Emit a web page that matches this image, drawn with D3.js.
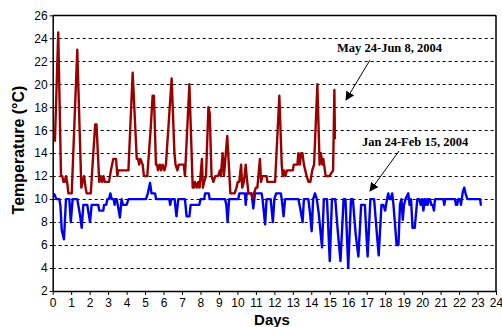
<!DOCTYPE html>
<html><head><meta charset="utf-8">
<script src="https://cdn.jsdelivr.net/npm/d3@7"></script>
<style>html,body{margin:0;padding:0;background:#fff;}svg{display:block;}</style>
</head><body>
<svg id="c" width="502" height="327"></svg>
<script>
const xTicks = d3.range(0, 25, 1);
const yTicks = d3.range(2, 27, 2);

const mayDays = [
  0.12,0.3,0.45,0.52,0.58,0.65,0.72,0.78,0.85,1.03,
  1.33,1.55,1.62,1.7,1.78,1.84,2.06,2.3,2.37,2.52,
  2.6,2.68,2.75,2.82,3.05,3.15,3.28,3.43,3.5,3.55,
  4.1,4.33,4.55,4.62,4.68,4.75,4.87,4.94,5.12,5.3,
  5.41,5.48,5.59,5.65,5.7,5.8,5.87,5.95,6.05,6.13,
  6.44,6.59,6.65,6.75,6.82,7.1,7.16,7.4,7.58,7.65,
  7.7,7.8,7.88,7.95,8.08,8.13,8.2,8.3,8.43,8.5,
  8.6,8.7,8.8,8.95,9.05,9.1,9.2,9.27,9.45,9.62,
  9.85,9.95,10.02,10.1,10.2,10.26,10.35,10.45,10.5,10.6,
  10.75,10.82,10.9,11.0,11.08,11.22,11.28,11.35,11.58,11.62,
  12.04,12.27,12.4,12.45,12.52,12.6,12.68,13.0,13.05,13.25,
  13.3,13.38,13.45,13.52,13.6,13.75,13.85,13.95,14.05,14.15,
  14.33,14.45,14.52,14.6,14.65,14.78,14.98,15.18,15.25,15.28];
const mayTemp = [
  15,24.5,12,12,11.5,11.5,12,11.5,10.5,10.5,
  23,11,11.5,12,11,10.5,10.5,16.5,16.5,11.5,
  12,11.5,12,11.5,11.5,12.5,13.5,13.5,12,12.5,
  12.5,21,13.5,13.5,13,13.5,13,12,12,16,
  19,19,13,13,12.5,13,12.5,13,12.5,13,
  20.5,14,13,12.5,13,13,12,20,11,11,
  11.5,11,11.5,11,13.5,11,11.5,12,18,17.5,
  12,11.5,12,12,12.5,12,14,12,15.5,10.5,
  10.5,11,11.5,11.5,13,11,11.5,13,12,10.5,
  10.5,10,10.5,11,11,13.5,11.5,12,12,11.5,
  11.5,19,13,12,12.5,12,12.5,12.5,13,13,
  14,13,14,14,13,12,11.5,11.5,12.5,13,
  20,13,14,13,13.5,12,12,12.5,19.5,15.2];

const janDays = [
  0.07,0.2,0.36,0.42,0.49,0.61,0.72,0.9,0.98,1.08,
  1.33,1.48,1.57,1.66,1.87,2.02,2.11,2.47,2.52,2.74,
  2.78,2.9,2.96,3.05,3.12,3.19,3.3,3.35,3.4,3.46,
  3.52,3.64,3.73,3.8,4.0,4.1,5.05,5.15,5.27,5.35,
  5.54,5.6,6.31,6.36,6.42,6.6,6.7,6.8,7.16,7.25,
  7.4,7.47,7.94,8.0,8.2,8.25,8.45,8.5,9.33,9.4,
  9.47,9.55,10.05,10.1,10.41,10.45,10.5,10.77,10.86,10.95,
  11.31,11.36,11.5,11.58,11.8,11.92,12.0,12.1,12.35,12.4,
  12.5,12.58,13.3,13.4,13.53,13.6,13.84,13.93,14.02,14.1,
  14.2,14.3,14.4,14.58,14.68,14.85,15.0,15.12,15.3,15.42,
  15.58,15.75,15.85,16.0,16.15,16.25,16.4,16.55,16.7,16.78,
  16.9,17.05,17.2,17.4,17.55,17.65,17.8,17.9,18.0,18.1,
  18.17,18.22,18.3,18.38,18.45,18.62,18.72,18.8,18.88,18.95,
  19.02,19.1,19.25,19.32,19.4,19.48,19.6,19.74,19.85,19.92,
  20.0,20.07,20.13,20.2,20.25,20.3,20.35,20.42,20.5,20.57,
  20.64,20.7,21.15,21.2,21.25,21.78,21.83,21.9,21.95,22.05,
  22.1,22.15,22.2,22.28,22.35,22.45,23.14,23.18,23.22];
const janTemp = [
  10.5,10,10,9.4,7.3,6.5,10,10,8,10,
  10,8.6,7.5,9.5,9.5,8,9.5,9.5,9,9,
  9.5,9.5,10,10,10.5,10,10,9.5,10,10,
  9.5,8.4,10,9.5,9.5,10,10,10.5,11.4,10.5,
  10.5,10,10,9.5,10,10,8.5,10,10,8.5,
  8.5,9.5,9.5,10,10,10.5,10.5,10,10,9.5,
  8,10,10,10.5,10.5,9.5,10.5,10.5,9.2,10.5,
  10.5,10,7.8,10,10,8,10,10.5,10.5,10,
  8.5,10,10,9.2,8,10,10,8.8,7.2,10,
  10.5,10,8.8,5.8,10,10,4.6,10,10,7.5,
  4.6,10,10,4.0,10,10,7.0,5.0,9.5,9.5,
  9.5,5.0,10,10,7.0,5.1,9.5,9.5,9.0,10,
  10.5,10,10,10.5,9.5,6,6,9.5,10,8.2,
  9.5,10,10.5,9.5,10,7.5,7.5,10,10,9.5,
  10,9,10,9.5,10,9.5,10,10,9.5,9.5,
  9,10,10,9.5,10,10,9.5,9.5,10,10,
  9.5,10,10.6,11,10.5,10,10,9.5,9.5];

const svg = d3.select("#c");
const x = d3.scaleLinear().domain([0, 24]).range([52.7, 496]);
const y = d3.scaleLinear().domain([2, 26]).range([291, 15.3]);

// gridlines
svg.append("g").selectAll("line").data(yTicks.filter(v => v > 2 && v < 26)).join("line")
  .attr("x1", x(0)).attr("x2", x(24))
  .attr("y1", d => Math.round(y(d)) + 0.5).attr("y2", d => Math.round(y(d)) + 0.5)
  .attr("stroke", "#000").attr("stroke-width", 1).attr("stroke-dasharray", "3,3");

// frame top/right
svg.append("line").attr("x1", x(0)).attr("x2", x(24)).attr("y1", Math.round(y(26))+0.5).attr("y2", Math.round(y(26))+0.5).attr("stroke","#000").attr("stroke-width",1.5);
svg.append("line").attr("x1", x(24)).attr("x2", x(24)).attr("y1", y(26)).attr("y2", y(2)).attr("stroke","#000").attr("stroke-width",1.5);

const line = d3.line().x(d => x(d[0])).y(d => y(d[1]));
svg.append("path").datum(janDays.map((d, i) => [d, janTemp[i]]))
  .attr("d", line).attr("fill", "none").attr("stroke", "#0000ee").attr("stroke-width", 2.4).attr("stroke-linejoin", "round");
svg.append("path").datum(mayDays.map((d, i) => [d, mayTemp[i]]))
  .attr("d", line).attr("fill", "none").attr("stroke", "#990000").attr("stroke-width", 2.4).attr("stroke-linejoin", "round");

// axes
const xa = svg.append("g").attr("transform", `translate(0,${y(2)})`)
  .call(d3.axisBottom(x).tickValues(xTicks).tickSize(4).tickSizeOuter(0).tickFormat(d3.format("d")));
const ya = svg.append("g").attr("transform", `translate(${x(0)},0)`)
  .call(d3.axisLeft(y).tickValues(yTicks).tickSize(3).tickPadding(2).tickSizeOuter(0).tickFormat(d3.format("d")));
[xa, ya].forEach(g => {
  g.select(".domain").attr("stroke", "#000").attr("stroke-width", 1.5);
  g.selectAll(".tick line").attr("stroke", "#000");
  g.selectAll("text").attr("fill", "#000").style("font-family", "Liberation Sans, Arial, sans-serif").style("font-size", "12px");
});

svg.append("text").attr("x", 272).attr("y", 325).attr("text-anchor", "middle")
  .style("font-family", "Liberation Sans, Arial, sans-serif").style("font-weight", "bold").style("font-size", "15px").text("Days");
svg.append("text").attr("transform", "translate(24,150) rotate(-90)").attr("text-anchor", "middle")
  .style("font-family", "Liberation Sans, Arial, sans-serif").style("font-weight", "bold").style("font-size", "16px").text("Temperature (°C)");

// annotations
const defs = svg.append("defs");
defs.append("marker").attr("id", "ah").attr("viewBox", "0 0 10 10").attr("refX", 9).attr("refY", 5)
  .attr("markerWidth", 9).attr("markerHeight", 9).attr("markerUnits", "userSpaceOnUse").attr("orient", "auto")
  .append("path").attr("d", "M0,0 L10,5 L0,10 z").attr("fill", "#000");

svg.append("text").attr("x", 389.5).attr("y", 52).attr("text-anchor", "middle")
  .style("font-family", "Liberation Serif, Times New Roman, serif").style("font-weight", "bold").style("font-size", "12.5px").text("May 24-Jun 8, 2004");
svg.append("line").attr("x1", 370).attr("y1", 60).attr("x2", 346).attr("y2", 100)
  .attr("stroke", "#000").attr("stroke-width", 1).attr("marker-end", "url(#ah)");
svg.append("text").attr("x", 415).attr("y", 146).attr("text-anchor", "middle")
  .style("font-family", "Liberation Serif, Times New Roman, serif").style("font-weight", "bold").style("font-size", "12.5px").text("Jan 24-Feb 15, 2004");
svg.append("line").attr("x1", 399).attr("y1", 151).attr("x2", 370).attr("y2", 191)
  .attr("stroke", "#000").attr("stroke-width", 1).attr("marker-end", "url(#ah)");
</script>
</body></html>
